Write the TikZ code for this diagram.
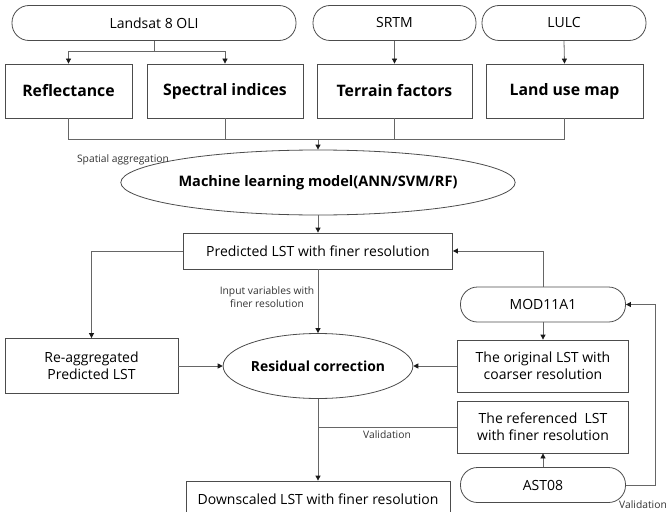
\documentclass[tikz,border=0pt]{standalone}
\usepackage{fontspec}
\setmainfont{Open Sans}
\usetikzlibrary{arrows.meta,shapes.geometric}
\tikzset{
  base/.style={draw=black!70, line width=0.8pt, inner sep=0pt, align=center, text=black},
  rbox/.style={base, rounded corners=17pt, minimum height=35pt, font=\fontsize{14}{16}\selectfont},
  bbox/.style={base, rectangle, font=\bfseries\fontsize{15.8}{18}\selectfont},
  nbox/.style={base, rectangle, font=\fontsize{14}{17}\selectfont},
  ell/.style={base, ellipse, font=\bfseries\fontsize{14.5}{17}\selectfont},
  conn/.style={draw=black!60, line width=0.8pt},
  arr/.style={conn, -{Triangle[length=5pt,width=5pt,color=black!90]}},
  small/.style={inner sep=0pt, text=black!80, align=center, font=\fontsize{10.3}{12.5}\selectfont}
}
\begin{document}
\begin{tikzpicture}[x=1pt,y=-1pt]
\useasboundingbox (0,0) rectangle (666,511);
\clip (0,0) rectangle (666,511);
% sources
\node[rbox, minimum width=284pt] (ls) at (154,23) {Landsat 8 OLI};
\node[rbox, minimum width=163pt] (srtm) at (394.5,23) {SRTM};
\node[rbox, minimum width=164pt] (lulc) at (564,23) {LULC};
% factors
\node[bbox, minimum width=127pt, minimum height=54pt] (refl) at (68.5,91) {Reflectance};
\node[bbox, minimum width=156pt, minimum height=54pt] (spec) at (225,91) {Spectral indices};
\node[bbox, minimum width=155pt, minimum height=54pt] (terr) at (394.5,91) {Terrain factors};
\node[bbox, minimum width=157pt, minimum height=54pt] (land) at (564.5,91) {Land use map};
% model
\node[ell, minimum width=362pt, minimum height=65pt] (ml) at (318,182.5) {Machine learning model(ANN/SVM/RF)};
\node[nbox, minimum width=269pt, minimum height=36pt] (pred) at (318,251) {Predicted LST with finer resolution};
\node[nbox, minimum width=173pt, minimum height=55pt] (reag) at (91.5,366) {Re-aggregated\\Predicted LST};
\node[ell, minimum width=170pt, minimum height=65pt, font=\bfseries\fontsize{13.9}{16}\selectfont] (res) at (318,366) {Residual correction};
\node[rbox, minimum width=165pt] (mod) at (543,304.5) {MOD11A1};
\node[nbox, minimum width=171pt, minimum height=52pt] (orig) at (543,366) {The original LST with\\coarser resolution};
\node[nbox, minimum width=171pt, minimum height=52pt] (refd) at (543,427) {The referenced~ LST\\with finer resolution};
\node[rbox, minimum width=165pt] (ast) at (543,485) {AST08};
\node[nbox, minimum width=264pt, minimum height=36pt] (down) at (318,499) {Downscaled LST with finer resolution};
% labels
\node[small] (lsa) at (123,160) {Spatial aggregation};
\node[small] (liv) at (267,297) {Input variables with\\finer resolution};
\node[small] (lv1) at (387,435) {Validation};
\node[small, anchor=west] (lv2) at (619,505) {Validation};
% connectors
\coordinate (ja) at (0,51);
\coordinate (jb) at (318,139);
\coordinate (jc) at (655,0);
\draw[conn] (ls.south) -- (ls.south |- ja);
\draw[arr] (ls.south |- ja) -| (refl.north);
\draw[arr] (ls.south |- ja) -| (spec.north);
\draw[arr] (srtm.south) -- (terr.north);
\draw[arr] (lulc.south) -- (land.north);
\draw[conn] (refl.south) -- (refl.south |- jb) -- (land.south |- jb) -- (land.south);
\draw[conn] (spec.south) -- (spec.south |- jb);
\draw[conn] (terr.south) -- (terr.south |- jb);
\draw[arr] (jb) -- (ml.north);
\draw[arr] (ml.south) -- (pred.north);
\draw[arr] (pred.west) -| (reag.north);
\draw[arr] (pred.south) -- (res.north);
\draw[arr] (reag.east) -- (res.west);
\draw[arr] (mod.north) |- (pred.east);
\draw[arr] (mod.south) -- (orig.north);
\draw[arr] (orig.west) -- (res.east);
\draw[arr] (ast.north) -- (refd.south);
\draw[conn] (refd.west) -- (res.south |- refd.west);
\draw[arr] (res.south) -- (down.north);
\draw[arr] (ast.east) -- (ast.east -| jc) |- (mod.east);
\end{tikzpicture}
\end{document}
